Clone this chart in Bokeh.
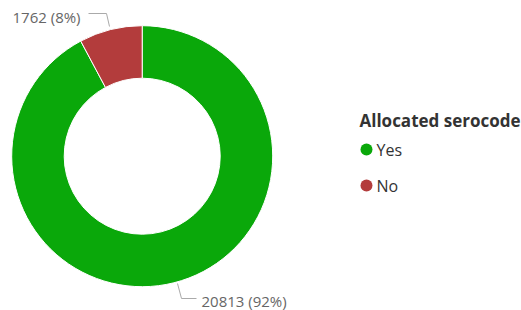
import math
from bokeh.plotting import figure
from bokeh.models import Range1d, ColumnDataSource
from bokeh.core.properties import value
from bokeh.embed import file_html
from bokeh.resources import INLINE

categories = ["Yes", "No"]
counts = [20813, 1762]
colors = ["#0aa80a", "#b33c3c"]
legend_title = "Allocated serocode"

W, H = 521, 310
p = figure(width=W, height=H, output_backend="svg", toolbar_location=None,
           x_range=Range1d(0, W), y_range=Range1d(0, H),
           min_border=0)
p.axis.visible = False
p.grid.visible = False
p.outline_line_color = None
p.background_fill_color = "white"

cx, cy = 141.7, 310 - 155.7
r_in, r_out = 78, 130.5

total = sum(counts)
fracs = [c / total for c in counts]
no_start = math.pi / 2
no_end = math.pi / 2 + fracs[1] * 2 * math.pi
yes_start = no_end
yes_end = math.pi / 2 + 2 * math.pi
src = ColumnDataSource(dict(start=[yes_start, no_start], end=[yes_end, no_end],
                            color=colors, x=[cx, cx], y=[cy, cy]))
p.annular_wedge(x="x", y="y", inner_radius=r_in, outer_radius=r_out,
                start_angle="start", end_angle="end", fill_color="color",
                line_color="white", line_width=1, source=src)

font = value("Open Sans")
labels = [f"{c} ({round(f*100)}%)" for c, f in zip(counts, fracs)]

p.line([88, 106, 109], [310 - 13, 310 - 13, 310 - 26], line_color="#aaaaaa", line_width=1)
p.line([177, 181, 196], [310 - 283, 310 - 298, 310 - 298], line_color="#aaaaaa", line_width=1)

p.text(x=[201, 12], y=[310 - 300, 310 - 16], text=[labels[0], labels[1]],
       text_font=font, text_font_size="15px", text_color="#666666",
       text_baseline="middle", text_align="left")

p.text(x=[359], y=[310 - 120], text=[legend_title], text_font=font,
       text_font_size="17px", text_font_style="bold", text_color="#333333",
       text_baseline="middle")
p.scatter(x=[366, 366], y=[310 - 149, 310 - 185], size=12, marker="circle",
          fill_color=colors, line_color=None)
p.text(x=[376, 376], y=[310 - 149, 310 - 185], text=categories, text_font=font,
       text_font_size="16px", text_color="#333333", text_baseline="middle")

open("out.html", "w").write(file_html(p, INLINE))
